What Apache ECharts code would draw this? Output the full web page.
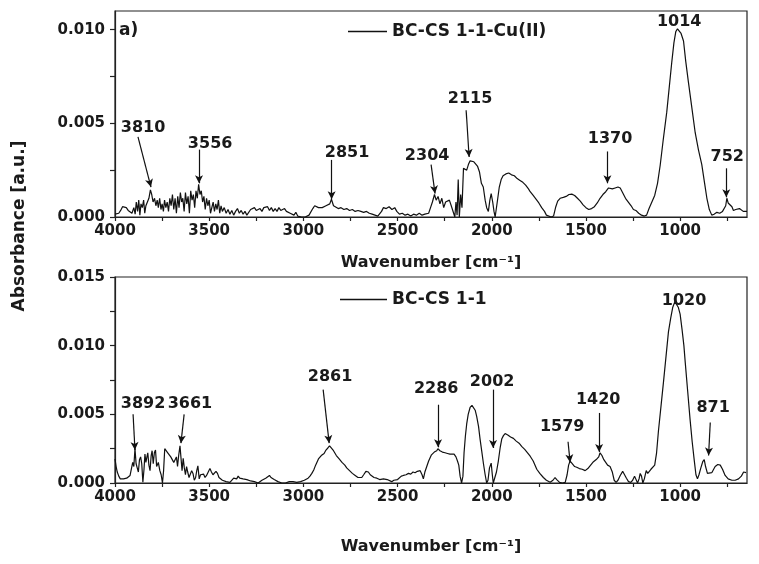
<!DOCTYPE html>
<html><head><meta charset="utf-8">
<script src="https://cdn.jsdelivr.net/npm/echarts@6/dist/echarts.min.js"></script>
<style>html,body{margin:0;padding:0;background:#fff}#c{width:759px;height:564px}</style>
</head><body><div id="c"></div>
<script>
// ---------- DATA ----------
const topName = 'BC-CS 1-1-Cu(II)';
const botName = 'BC-CS 1-1';
const xTickLabels = [1000, 1500, 2000, 2500, 3000, 3500, 4000];
const xMinorTicks = [750, 1000, 1250, 1500, 1750, 2000, 2250, 2500, 2750, 3000, 3250, 3500, 3750, 4000];
const topYLabels = [0, 0.005, 0.010];
const topYTicks = [0, 0.0025, 0.005, 0.0075, 0.010];
const botYLabels = [0, 0.005, 0.010, 0.015];
const botYTicks = [0, 0.0025, 0.005, 0.0075, 0.010, 0.0125, 0.015];

// [wavenumber, absorbance]
const topSpectrum = [[4000,0.00015],[3990,0.00005],[3980,0.0002],[3970,0.00035],[3960,0.00055],[3950,0.00065],[3940,0.0005],[3930,0.00035],[3920,0.0003],[3910,0.0002],[3900,0.0005],[3893,0.00015],[3887,0.0008],[3880,0.0003],[3874,0.0009],[3868,0.0001],[3862,0.0007],[3855,0.0005],[3848,0.0009],[3842,0.0002],[3836,0.0006],[3828,0.0007],[3820,0.001],[3812,0.00145],[3805,0.0012],[3798,0.0008],[3790,0.001],[3783,0.0006],[3776,0.0009],[3770,0.0005],[3763,0.001],[3756,0.0004],[3750,0.0007],[3743,0.0003],[3737,0.0009],[3730,0.0005],[3723,0.0008],[3716,0.0003],[3709,0.001],[3702,0.0006],[3695,0.0012],[3688,0.0004],[3681,0.001],[3674,0.0002],[3667,0.0011],[3660,0.0005],[3653,0.0013],[3646,0.0008],[3640,0.001],[3633,0.0003],[3626,0.0013],[3619,0.0007],[3612,0.0011],[3605,0.0002],[3598,0.0014],[3591,0.0009],[3584,0.0012],[3577,0.0005],[3570,0.0014],[3563,0.001],[3556,0.00175],[3549,0.0012],[3542,0.0014],[3535,0.0008],[3528,0.0011],[3521,0.0004],[3514,0.001],[3507,0.0006],[3500,0.0009],[3493,0.0002],[3486,0.0005],[3479,0.0008],[3472,0.0003],[3465,0.0007],[3458,0.0004],[3451,0.0009],[3444,0.0002],[3437,0.0006],[3430,0.0003],[3420,0.0005],[3410,0.0002],[3400,0.0004],[3390,0.00015],[3380,0.00035],[3370,0.0001],[3360,0.0003],[3350,0.00045],[3340,0.0002],[3330,0.00035],[3320,0.00015],[3310,0.0003],[3300,0.0001],[3290,0.0002],[3280,0.0004],[3270,0.0003],[3260,0.0005],[3250,0.00035],[3240,0.00025],[3230,0.00045],[3220,0.0003],[3210,0.0005],[3200,0.0004],[3190,0.00055],[3180,0.00035],[3170,0.0005],[3160,0.0003],[3150,0.00045],[3140,0.0003],[3130,0.0005],[3120,0.00035],[3110,0.00025],[3100,0.00045],[3090,0.0003],[3080,0.0004],[3070,0.0002],[3060,0.0003],[3050,0.0001],[3040,0.00025],[3030,0.00005],[3020,0.00015],[3010,0],[3000,0.00005],[2990,0],[2980,0.00005],[2970,0.0001],[2960,0.0002],[2950,0.00045],[2940,0.0006],[2930,0.00055],[2920,0.0005],[2910,0.0006],[2900,0.0005],[2890,0.00045],[2880,0.0006],[2870,0.00055],[2860,0.0007],[2851,0.00095],[2840,0.0006],[2830,0.00055],[2815,0.00045],[2800,0.0005],[2785,0.0004],[2770,0.00045],[2755,0.00035],[2740,0.0004],[2725,0.0003],[2710,0.00035],[2695,0.0003],[2680,0.00025],[2665,0.0003],[2650,0.0002],[2635,0.00015],[2620,0.0001],[2605,0.00005],[2595,0.0001],[2585,0.0003],[2575,0.0005],[2560,0.00045],[2545,0.00055],[2530,0.0004],[2515,0.0005],[2504,0.0003],[2490,0.00015],[2475,0.0002],[2460,0.0001],[2445,0.00015],[2430,0.00005],[2415,0.00015],[2400,0.0001],[2385,0.0002],[2370,0.0001],[2355,0.00015],[2345,0.00005],[2335,0.0002],[2325,0.0005],[2315,0.0008],[2304,0.0012],[2295,0.0009],[2285,0.0011],[2275,0.0007],[2265,0.001],[2255,0.0005],[2245,0.0008],[2235,0.0007],[2225,0.0009],[2215,0.0006],[2205,0.0005],[2196,0],[2190,0.0008],[2184,0.0001],[2178,0.002],[2172,0],[2165,0.0012],[2158,0.0005],[2150,0.0026],[2142,0.0027],[2133,0.0025],[2124,0.0028],[2115,0.003],[2106,0.0029],[2095,0.00295],[2085,0.0029],[2075,0.0027],[2065,0.0024],[2055,0.0018],[2045,0.0016],[2035,0.0009],[2027,0.0005],[2018,0.0003],[2010,0.0009],[2003,0.00125],[1995,0.0008],[1988,0.0003],[1982,0],[1976,0],[1968,0.001],[1960,0.0016],[1950,0.002],[1940,0.0022],[1925,0.0023],[1910,0.00235],[1895,0.00225],[1880,0.0022],[1865,0.00205],[1850,0.00195],[1835,0.00185],[1820,0.0017],[1805,0.0015],[1796,0.00135],[1780,0.00115],[1765,0.00095],[1750,0.00075],[1735,0.0005],[1720,0.0003],[1710,0.0001],[1700,0],[1685,0],[1672,0.00005],[1660,0.00055],[1650,0.00085],[1637,0.001],[1620,0.00105],[1605,0.0011],[1590,0.0012],[1575,0.00122],[1560,0.00115],[1545,0.001],[1530,0.00085],[1515,0.00065],[1500,0.0005],[1485,0.0004],[1470,0.00045],[1455,0.00055],[1440,0.00075],[1425,0.001],[1410,0.0012],[1395,0.00135],[1380,0.00155],[1370,0.0016],[1360,0.0015],[1345,0.00155],[1330,0.0016],[1318,0.00155],[1305,0.0013],[1290,0.001],[1275,0.0008],[1260,0.0006],[1248,0.0004],[1235,0.00035],[1220,0.0002],[1205,0.0001],[1190,0.00005],[1178,0.0001],[1165,0.00045],[1150,0.0008],[1135,0.00115],[1120,0.0018],[1106,0.00275],[1090,0.0041],[1071,0.0056],[1057,0.007],[1044,0.0083],[1033,0.0093],[1023,0.0099],[1014,0.01005],[1005,0.00995],[995,0.0098],[982,0.0094],[970,0.0083],[956,0.0072],[940,0.006],[920,0.0045],[903,0.0036],[885,0.0028],[870,0.0018],[858,0.001],[845,0.0004],[832,0.0001],[820,0.00015],[805,0.00025],[790,0.0002],[775,0.0003],[765,0.00025],[758,0.0006],[752,0.001],[745,0.00075],[735,0.00085],[725,0.00055],[717,0.00035],[705,0.0004],[695,0.0003],[685,0.00045],[675,0.00035],[665,0.0003],[655,0.0004],[645,0.0003]];

const botSpectrum = [[4000,0.00175],[3994,0.0012],[3988,0.0008],[3980,0.0005],[3972,0.0003],[3963,0.00025],[3955,0.0003],[3947,0.0002],[3938,0.00035],[3929,0.00045],[3920,0.00055],[3912,0.00065],[3906,0.0015],[3900,0.0012],[3894,0.0025],[3888,0.0014],[3882,0.0011],[3876,0.0008],[3870,0.0017],[3864,0.0019],[3858,0.0014],[3852,0.00005],[3846,0.001],[3841,0.0021],[3836,0.0015],[3832,0.0018],[3826,0.0022],[3820,0.0013],[3814,0.0009],[3808,0.002],[3803,0.00235],[3797,0.0014],[3791,0.0022],[3785,0.0024],[3779,0.0012],[3770,0.0015],[3762,0.0009],[3755,0.0006],[3748,0],[3742,0.0009],[3736,0.0025],[3728,0.0024],[3720,0.0022],[3712,0.0023],[3704,0.0019],[3696,0.0017],[3688,0.0015],[3681,0.0014],[3674,0.0019],[3668,0.0012],[3662,0.002],[3655,0.0027],[3650,0.0028],[3644,0.0009],[3638,0.0018],[3632,0.0011],[3626,0.0006],[3620,0.0012],[3614,0.0008],[3607,0.0004],[3600,0.0003],[3593,0.0009],[3586,0.0007],[3579,0.0002],[3572,0.0004],[3566,0.0009],[3560,0.00125],[3553,0.0003],[3546,0.0006],[3538,0.0005],[3530,0.00065],[3522,0.0004],[3514,0.00055],[3505,0.0008],[3496,0.00105],[3488,0.0008],[3480,0.0006],[3472,0.0007],[3464,0.00085],[3456,0.0007],[3448,0.0004],[3440,0.0003],[3430,0.0002],[3420,0.00025],[3410,0.0001],[3400,0.00015],[3390,0.00005],[3380,0.0001],[3370,0.00035],[3362,0.0004],[3354,0.0003],[3346,0.0005],[3338,0.00035],[3330,0.0004],[3320,0.0003],[3310,0.0002],[3300,0.00025],[3290,0.0002],[3280,0.00015],[3270,0.0002],[3260,0.0001],[3250,0.00005],[3240,0],[3230,0.0001],[3220,0.0002],[3210,0.0003],[3200,0.00035],[3190,0.00045],[3180,0.00055],[3172,0.0004],[3165,0.00045],[3155,0.00025],[3145,0.00015],[3135,0.0001],[3125,0.00005],[3115,0],[3105,0.00005],[3095,0],[3085,0.00005],[3075,0.0001],[3065,0.00005],[3055,0.0001],[3045,0],[3035,0.00005],[3025,0.00005],[3015,0.0001],[3005,0.00015],[2995,0.0002],[2985,0.0003],[2975,0.00035],[2965,0.0005],[2955,0.0007],[2945,0.00095],[2935,0.0013],[2920,0.00175],[2905,0.002],[2890,0.00215],[2880,0.0024],[2870,0.00255],[2861,0.0027],[2852,0.00255],[2840,0.00235],[2825,0.002],[2810,0.00175],[2795,0.0015],[2780,0.0013],[2770,0.0011],[2755,0.0009],[2740,0.0007],[2725,0.00055],[2710,0.0004],[2700,0.0003],[2690,0.0004],[2680,0.0006],[2668,0.00085],[2655,0.0008],[2645,0.0006],[2635,0.0005],[2625,0.0004],[2610,0.00035],[2595,0.00025],[2585,0.00015],[2575,0.0003],[2566,0.0004],[2555,0.00025],[2545,0.00015],[2531,0.0001],[2520,0.0002],[2510,0.0003],[2500,0.00025],[2490,0.00035],[2480,0.0005],[2469,0.00055],[2455,0.0006],[2442,0.0007],[2430,0.00065],[2418,0.0008],[2407,0.00075],[2395,0.00085],[2380,0.0009],[2370,0.0006],[2363,0.0003],[2355,0.0008],[2345,0.0012],[2335,0.0016],[2320,0.00205],[2305,0.00225],[2292,0.00235],[2286,0.0025],[2275,0.00235],[2262,0.00225],[2248,0.0022],[2235,0.00215],[2222,0.0021],[2212,0.00205],[2200,0.0021],[2190,0.0019],[2182,0.0016],[2175,0.0013],[2168,0.0005],[2160,0],[2153,0.0005],[2147,0.0022],[2140,0.0034],[2133,0.0043],[2125,0.005],[2115,0.0055],[2105,0.00565],[2097,0.0056],[2088,0.0053],[2080,0.00485],[2070,0.0041],[2062,0.0032],[2053,0.0023],[2044,0.0014],[2035,0.0006],[2027,0],[2020,0.0002],[2012,0.0011],[2003,0.00145],[1997,0.0006],[1992,0],[1982,0],[1975,0.0008],[1965,0.0016],[1955,0.0026],[1947,0.0032],[1938,0.00345],[1929,0.0036],[1915,0.0035],[1900,0.00335],[1885,0.00325],[1870,0.00305],[1855,0.0029],[1840,0.00265],[1825,0.00245],[1810,0.0022],[1796,0.00195],[1780,0.0016],[1761,0.001],[1745,0.0007],[1726,0.0004],[1710,0.0002],[1690,0.00005],[1675,0.0002],[1664,0.0004],[1655,0.00025],[1640,0.00005],[1625,0],[1610,0.00005],[1600,0.0006],[1592,0.0013],[1584,0.0016],[1575,0.00145],[1560,0.0012],[1549,0.00115],[1535,0.00105],[1520,0.001],[1504,0.0009],[1490,0.00105],[1475,0.0013],[1460,0.00155],[1442,0.00175],[1432,0.0019],[1425,0.0022],[1415,0.002],[1405,0.0017],[1398,0.0016],[1385,0.0013],[1372,0.0012],[1360,0.0008],[1350,0.0002],[1340,0.00005],[1330,0.0002],[1318,0.00055],[1305,0.00085],[1295,0.0006],[1285,0.00035],[1274,0.0001],[1262,0.00005],[1252,0.0002],[1242,0.0005],[1234,0.0004],[1226,0],[1218,0.0003],[1212,0.0007],[1205,0.0005],[1198,0],[1190,0.0003],[1180,0.0009],[1172,0.0007],[1165,0.00075],[1155,0.001],[1145,0.0011],[1135,0.0013],[1125,0.0022],[1115,0.0038],[1100,0.0058],[1088,0.0074],[1075,0.0092],[1062,0.011],[1050,0.012],[1039,0.0128],[1028,0.0132],[1018,0.0131],[1010,0.0128],[1000,0.0123],[990,0.0112],[980,0.01],[973,0.0088],[960,0.0067],[947,0.0046],[936,0.003],[925,0.00165],[916,0.0006],[908,0.0003],[900,0.0006],[890,0.0011],[880,0.00155],[872,0.0017],[865,0.0012],[855,0.0007],[845,0.00075],[832,0.00075],[822,0.001],[814,0.0012],[800,0.00135],[787,0.0013],[775,0.001],[761,0.00055],[745,0.0003],[725,0.0002],[708,0.0002],[690,0.0003],[675,0.0005],[663,0.0008],[650,0.00075]];

// peak annotations: label, label centre [wn, abs], arrow from, arrow tip
const topPeaks = [
  ['3810', [3851, 0.00476], [3878, 0.00428], [3809, 0.0016]],
  ['3556', [3495, 0.0039], [3554, 0.0036], [3554, 0.0018]],
  ['2851', [2768, 0.0034], [2850, 0.00305], [2850, 0.00095]],
  ['2304', [2343, 0.00326], [2322, 0.0028], [2301, 0.00125]],
  ['2115', [2115, 0.0063], [2136, 0.0057], [2120, 0.0032]],
  ['1370', [1372, 0.0042], [1386, 0.0035], [1386, 0.0018]],
  ['1014', [1005, 0.0104], null, null],
  ['752', [750, 0.0032], [755, 0.0026], [755, 0.00105]]
];
const botPeaks = [
  ['3892', [3851, 0.00577], [3904, 0.005], [3894, 0.0024]],
  ['3661', [3602, 0.00577], [3633, 0.005], [3650, 0.0029]],
  ['2861', [2858, 0.0077], [2895, 0.0068], [2863, 0.0029]],
  ['2286', [2295, 0.00686], [2285, 0.0057], [2285, 0.0026]],
  ['2002', [1998, 0.0074], [1993, 0.0068], [1993, 0.00255]],
  ['1579', [1626, 0.0041], [1595, 0.003], [1584, 0.0015]],
  ['1420', [1435, 0.00606], [1430, 0.0051], [1430, 0.00226]],
  ['1020', [979, 0.0133], null, null],
  ['871', [825, 0.0055], [840, 0.0044], [849, 0.002]]
];

// ---------- CHART ----------
const FONT = '"DejaVu Sans", sans-serif';
const TXT = '#1a1a1a';
const chart = echarts.init(document.getElementById('c'), null, {renderer: 'canvas'});

function xAxisCfg(gridIndex, gap) {
  return {
    gridIndex, type: 'value', inverse: true, min: 645, max: 4000,
    name: 'Wavenumber [cm⁻¹]', nameLocation: 'middle', nameGap: gap,
    nameTextStyle: {fontFamily: FONT, fontWeight: 'bold', fontSize: 16, color: TXT},
    axisLine: {show: true, onZero: false, lineStyle: {color: '#222', width: 1.2}},
    axisTick: {show: true, inside: false, length: 4, customValues: xMinorTicks, lineStyle: {color: '#222', width: 1.2}},
    axisLabel: {show: true, customValues: xTickLabels, margin: 7, fontFamily: FONT, fontWeight: 'bold', fontSize: 15, color: TXT,
      formatter: v => String(v)},
    splitLine: {show: false}
  };
}
function yAxisCfg(gridIndex, max, labels, ticks) {
  return {
    gridIndex, type: 'value', min: 0, max: max,
    axisLine: {show: true, lineStyle: {color: '#222', width: 1.2}},
    axisTick: {show: true, length: 5, customValues: ticks, lineStyle: {color: '#222', width: 1.2}},
    axisLabel: {show: true, customValues: labels, margin: 10, fontFamily: FONT, fontWeight: 'bold', fontSize: 15, color: TXT,
      formatter: v => v.toFixed(3)},
    splitLine: {show: false}
  };
}
function annotations(peaks, xi, yi, name) {
  const lines = peaks.filter(p => p[2]).map(p => [{coord: p[2]}, {coord: p[3]}]);
  return [{
    type: 'scatter', xAxisIndex: xi, yAxisIndex: yi, name: name + ' peaks', silent: true,
    symbolSize: 2, itemStyle: {color: 'rgba(255,255,255,0)'},
    data: peaks.map(p => ({value: p[1], lbl: p[0]})),
    label: {show: true, position: 'inside', formatter: q => q.data.lbl, color: TXT, opacity: 1,
      textBorderWidth: 0, textBorderColor: 'transparent',
      fontFamily: FONT, fontWeight: 'bold', fontSize: 16},
    emphasis: {disabled: true},
    labelLayout: {hideOverlap: false},
    z: 5
  }, {
    type: 'line', xAxisIndex: xi, yAxisIndex: yi, name: name + ' arrows', silent: true, data: [],
    markLine: {silent: true, symbol: ['none', 'arrow'], symbolSize: [6, 8], animation: false,
      label: {show: false}, emphasis: {disabled: true},
      lineStyle: {color: '#111', width: 1.2, type: 'solid'}, data: lines}
  }];
}

const legendText = {fontFamily: FONT, fontWeight: 'bold', fontSize: 17, color: TXT};
const option = {
  animation: false,
  backgroundColor: '#fff',
  grid: [
    {left: 115, right: 12, top: 11, height: 206, show: true, borderColor: '#222', borderWidth: 1.2, containLabel: false},
    {left: 115, right: 12, top: 277, height: 206, show: true, borderColor: '#222', borderWidth: 1.2, containLabel: false}
  ],
  xAxis: [xAxisCfg(0, 38), xAxisCfg(1, 56)],
  yAxis: [yAxisCfg(0, 0.011, topYLabels, topYTicks), yAxisCfg(1, 0.015, botYLabels, botYTicks)],
  legend: [
    {data: [{name: topName, icon: 'rect'}], left: 343, top: 18, itemWidth: 39, itemHeight: 1.5, itemGap: 5,
      itemStyle: {color: '#111'}, textStyle: legendText},
    {data: [{name: botName, icon: 'rect'}], left: 335, top: 286, itemWidth: 47, itemHeight: 1.5, itemGap: 5,
      itemStyle: {color: '#111'}, textStyle: legendText}
  ],
  graphic: [
    {type: 'text', x: 20, y: 226, rotation: Math.PI / 2,
      style: {text: 'Absorbance [a.u.]', font: 'bold 17px ' + FONT, fill: TXT, textAlign: 'center', textVerticalAlign: 'middle'}},
    {type: 'text', x: 119, y: 22,
      style: {text: 'a)', font: 'bold 17px ' + FONT, fill: TXT, textAlign: 'left', textVerticalAlign: 'top'}}
  ],
  series: [
    {type: 'line', name: topName, xAxisIndex: 0, yAxisIndex: 0, data: topSpectrum, symbol: 'none',
      lineStyle: {color: '#111', width: 1.2}, itemStyle: {color: '#111'}, silent: true},
    {type: 'line', name: botName, xAxisIndex: 1, yAxisIndex: 1, data: botSpectrum, symbol: 'none',
      lineStyle: {color: '#111', width: 1.2}, itemStyle: {color: '#111'}, silent: true},
    ...annotations(topPeaks, 0, 0, 'top'),
    ...annotations(botPeaks, 1, 1, 'bot')
  ]
};
chart.setOption(option);
</script>
</body></html>
